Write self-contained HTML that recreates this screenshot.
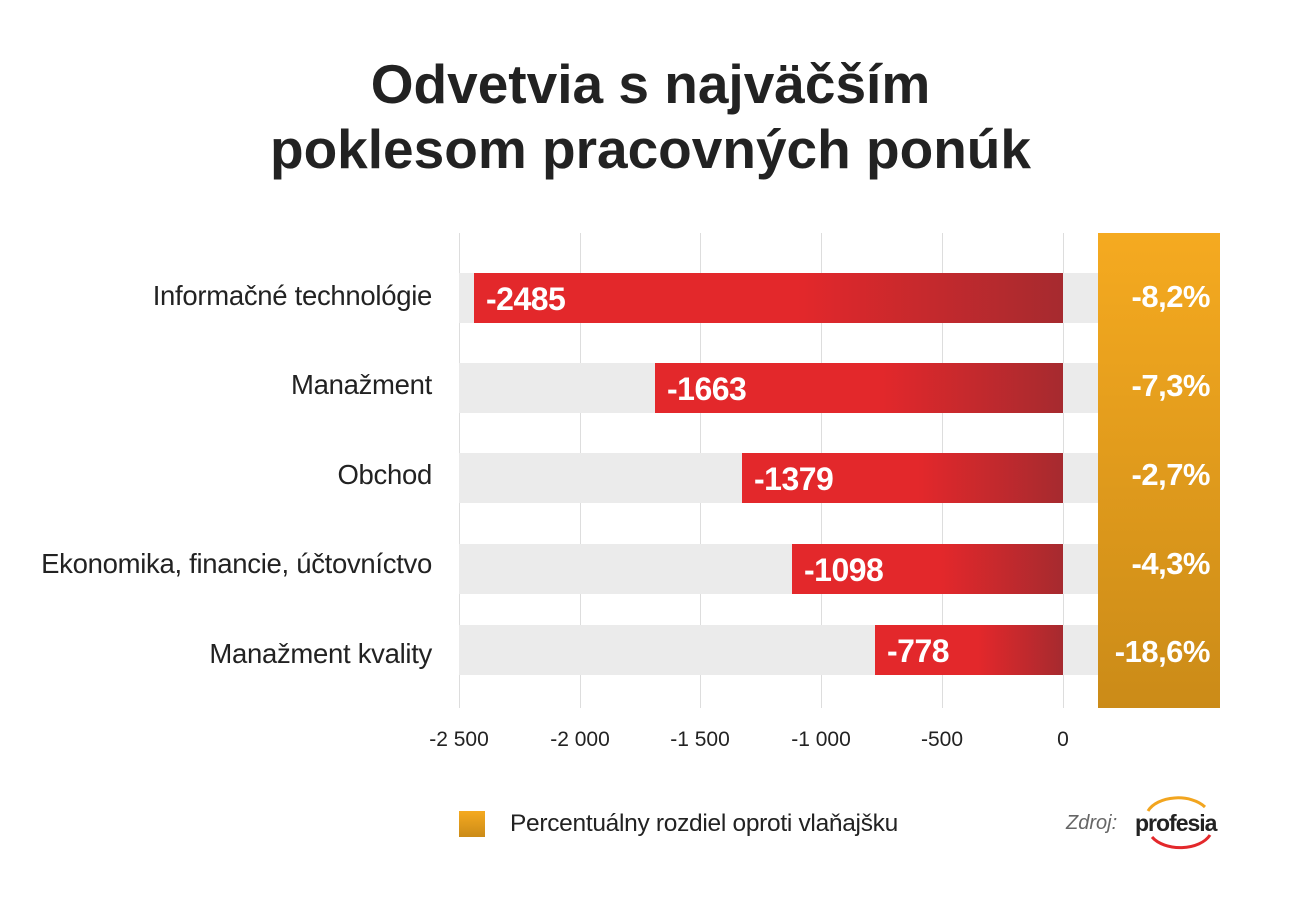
<!DOCTYPE html>
<html><head><meta charset="utf-8"><style>
body{margin:0;width:1301px;height:904px;background:#fff;position:relative;overflow:hidden;font-family:"Liberation Sans",sans-serif;}
.a{position:absolute}
.t{left:0;width:1301px;text-align:center;font-weight:bold;font-size:55px;color:#222;line-height:62px}
.g{background:#ddd;width:1px;top:233px;height:475px}
.bg{background:#ebebeb;left:459px;width:639px;height:50px}
.bar{background:linear-gradient(to right,#e3282b 0%,#e3282b 55%,#a62a2f 100%);height:50px;color:#fff;font-weight:bold;font-size:32px;line-height:52px;padding-left:12px;box-sizing:border-box;letter-spacing:-0.5px}
.lab{right:869px;font-size:27.5px;color:#222;text-align:right;white-space:nowrap;letter-spacing:-0.3px}
.pct{left:1098px;width:112px;text-align:right;color:#fff;font-weight:bold;font-size:31px;letter-spacing:-0.5px}
.tk{top:728px;font-size:21px;color:#222;width:100px;text-align:center}
</style></head><body>
<div class="a t" style="top:53px">Odvetvia s najväčším</div>
<div class="a t" style="top:118px">poklesom pracovných ponúk</div>
<div class="a g" style="left:459px"></div><div class="a g" style="left:580px"></div><div class="a g" style="left:700px"></div><div class="a g" style="left:821px"></div><div class="a g" style="left:942px"></div><div class="a g" style="left:1063px"></div>
<div class="a bg" style="top:273px"></div><div class="a bg" style="top:363px"></div><div class="a bg" style="top:453px"></div><div class="a bg" style="top:544px"></div><div class="a bg" style="top:625px"></div>
<div class="a" style="left:1098px;top:233px;width:122px;height:475px;background:linear-gradient(#f5aa20,#cb8b18)"></div>
<div class="a bar" style="left:474px;width:589px;top:273px">-2485</div>
<div class="a bar" style="left:655px;width:408px;top:363px">-1663</div>
<div class="a bar" style="left:742px;width:321px;top:453px">-1379</div>
<div class="a bar" style="left:792px;width:271px;top:544px">-1098</div>
<div class="a bar" style="left:875px;width:188px;top:625px">-778</div>
<div class="a lab" style="top:280px">Informačné technológie</div>
<div class="a lab" style="top:369px">Manažment</div>
<div class="a lab" style="top:459px">Obchod</div>
<div class="a lab" style="top:548px">Ekonomika, financie, účtovníctvo</div>
<div class="a lab" style="top:638px">Manažment kvality</div>
<div class="a pct" style="top:279px">-8,2%</div>
<div class="a pct" style="top:368px">-7,3%</div>
<div class="a pct" style="top:457px">-2,7%</div>
<div class="a pct" style="top:546px">-4,3%</div>
<div class="a pct" style="top:634px">-18,6%</div>
<div class="a tk" style="left:409px">-2 500</div><div class="a tk" style="left:530px">-2 000</div><div class="a tk" style="left:650px">-1 500</div><div class="a tk" style="left:771px">-1 000</div><div class="a tk" style="left:892px">-500</div><div class="a tk" style="left:1013px">0</div>
<div class="a" style="left:459px;top:811px;width:26px;height:26px;background:linear-gradient(#f5aa20,#cb8b18)"></div>
<div class="a" style="left:510px;top:810px;font-size:24.5px;color:#222;letter-spacing:-0.3px">Percentuálny rozdiel oproti vlaňajšku</div>
<div class="a" style="left:1066px;top:812px;font-size:20px;color:#666;font-style:italic">Zdroj:</div>
<svg class="a" style="left:1130px;top:793px" width="95" height="60"><path d="M18 18 A32 20 0 0 1 75 14" fill="none" stroke="#f2a51f" stroke-width="3"/><path d="M22 44 A32 20 0 0 0 80 42" fill="none" stroke="#e3282b" stroke-width="3"/><text x="5" y="38" font-family="Liberation Sans" font-weight="bold" font-size="23" fill="#222" letter-spacing="-1">profesia</text></svg>
</body></html>
